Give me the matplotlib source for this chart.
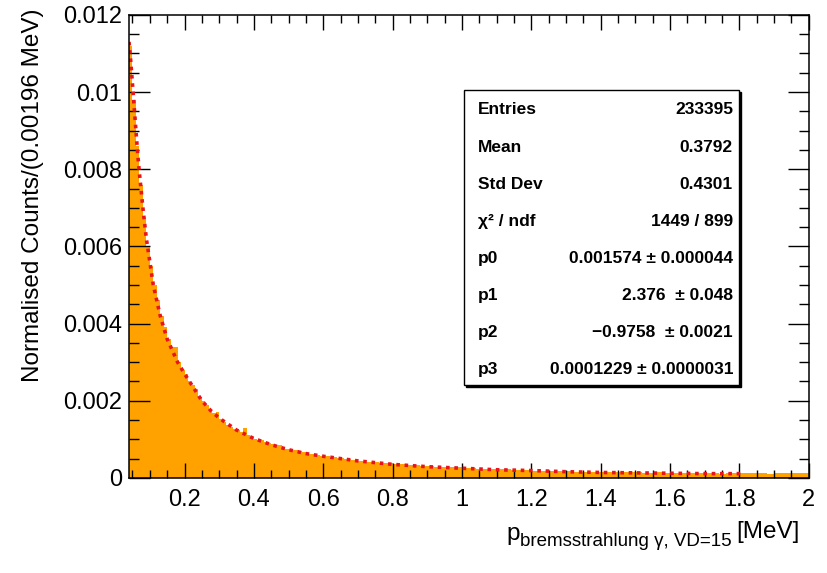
import numpy as np
import matplotlib
matplotlib.use("Agg")
import matplotlib.pyplot as plt
from matplotlib.patches import Rectangle

plt.rcParams["font.family"] = ["Liberation Sans", "DejaVu Sans"]

# histogram bin contents (0.01 MeV bins up to 0.6, then 0.02 MeV bins)
fine_counts = [
    0.0112, 0.0098, 0.0086, 0.0076, 0.0067, 0.0060, 0.0055, 0.0050, 0.0046, 0.0042,
    0.0039, 0.0036, 0.0034, 0.0034, 0.0030, 0.0028, 0.0027, 0.0025, 0.0024, 0.0023,
    0.0021, 0.0020, 0.0019, 0.00178, 0.00168, 0.00172, 0.00152, 0.00145, 0.00138, 0.00132,
    0.00127, 0.00124, 0.00119, 0.00130, 0.00112, 0.00106, 0.00102, 0.00099, 0.00097, 0.00094,
    0.00091, 0.00087, 0.00084, 0.00085, 0.00079, 0.00076, 0.00074, 0.00072, 0.00071, 0.00069,
    0.00066, 0.00064, 0.00063, 0.00062, 0.00060, 0.00058,
]
coarse_counts = [
    0.00057, 0.00053, 0.00052, 0.00049, 0.00047, 0.00045, 0.00042, 0.00041, 0.00039, 0.00038,
    0.00036, 0.00035, 0.00033, 0.00033, 0.00031, 0.00030, 0.00029, 0.00029, 0.00027, 0.00027,
    0.00026, 0.00025, 0.00024, 0.00024, 0.00023, 0.00022, 0.00022, 0.00021, 0.00021, 0.00020,
    0.00019, 0.00019, 0.00018, 0.00018, 0.00017, 0.00017, 0.00016, 0.00016, 0.00016, 0.00015,
    0.00015, 0.00015, 0.00014, 0.00015, 0.00014, 0.00014, 0.00013, 0.00013, 0.00014, 0.00013,
    0.00013, 0.00012, 0.00013, 0.00012, 0.00012, 0.00012, 0.00012, 0.00011, 0.00012, 0.00012,
    0.00012, 0.00012, 0.00012, 0.00012, 0.00011, 0.00012, 0.00012, 0.00012, 0.00012, 0.00012,
]

# fit curve
fit_x = [0.040, 0.045, 0.050, 0.055, 0.060, 0.065, 0.070, 0.080, 0.090, 0.100,
         0.110, 0.120, 0.130, 0.140, 0.150, 0.160, 0.180, 0.200, 0.225, 0.250,
         0.275, 0.300, 0.350, 0.400, 0.450, 0.500, 0.550, 0.600, 0.700, 0.800,
         0.900, 1.000, 1.100, 1.200, 1.300, 1.400, 1.500, 1.600, 1.700, 1.810]
fit_y = [0.0113, 0.0108, 0.0102, 0.0096, 0.0090, 0.0084, 0.0079, 0.0070, 0.0062, 0.0056,
         0.0050, 0.0046, 0.0042, 0.0039, 0.0036, 0.0034, 0.0030, 0.0027, 0.00235, 0.0020,
         0.00175, 0.00155, 0.00124, 0.00102, 0.00086, 0.00073, 0.00063, 0.00056, 0.00044, 0.00035,
         0.00029, 0.00025, 0.00021, 0.00019, 0.00016, 0.00014, 0.00013, 0.00012, 0.00011, 0.00011]

stats_labels = ["Entries", "Mean", "Std Dev", "\u03c7\u00b2 / ndf", "p0", "p1", "p2", "p3"]
stats_values = ["233395", "0.3792", "0.4301", "1449 / 899",
                "0.001574 \u00b1 0.000044", "2.376  \u00b1 0.048",
                "\u22120.9758  \u00b1 0.0021", "0.0001229 \u00b1 0.0000031"]

edges = np.concatenate([np.linspace(0.04, 0.60, len(fine_counts) + 1),
                        np.linspace(0.60, 2.00, len(coarse_counts) + 1)[1:]])
counts = np.array(fine_counts + coarse_counts)

fig = plt.figure(figsize=(8.27, 5.73), dpi=100)
ax = fig.add_axes([0.156, 0.166, 0.822, 0.808])

ax.stairs(counts, edges, fill=True, color="#ffa200", linewidth=0)
ax.plot(fit_x, fit_y, color="#e8141c", linewidth=2.6, linestyle=(0, (1, 1.3)))

ax.set_xlim(0.04, 2.0)
ax.set_ylim(0, 0.012)
ax.set_xticks([0.2, 0.4, 0.6, 0.8, 1.0, 1.2, 1.4, 1.6, 1.8, 2.0])
ax.set_xticklabels(["0.2", "0.4", "0.6", "0.8", "1", "1.2", "1.4", "1.6", "1.8", "2"])
ax.set_xticks(np.arange(0.05, 2.0, 0.05), minor=True)
ax.set_yticks([0, 0.002, 0.004, 0.006, 0.008, 0.01, 0.012])
ax.set_yticklabels(["0", "0.002", "0.004", "0.006", "0.008", "0.01", "0.012"])
ax.set_yticks(np.arange(0, 0.0121, 0.0005), minor=True)

ax.tick_params(which="both", direction="in", top=True, right=True, colors="black", width=1)
ax.tick_params(which="major", axis="x", length=11, pad=8, labelsize=17)
ax.tick_params(which="minor", axis="x", length=5.5)
ax.tick_params(which="major", axis="y", length=15, pad=5, labelsize=17)
ax.tick_params(which="minor", axis="y", length=7.5)
for s in ax.spines.values():
    s.set_linewidth(1.1)

fig.text(0.04, 0.985, "Normalised Counts/(0.00196 MeV)", rotation=90,
         ha="center", va="top", fontsize=17.5)

# x title built from pieces: p, subscript, [MeV]
renderer = fig.canvas.get_renderer()
unit = fig.text(800 / 827, 1 - 538 / 573, "[MeV]", ha="right", va="baseline", fontsize=17.5)
ux0 = unit.get_window_extent(renderer).x0
sub = fig.text((ux0 - 5) / 827, 1 - 546 / 573, "bremsstrahlung \u03b3, VD=15",
               ha="right", va="baseline", fontsize=13.5)
sx0 = sub.get_window_extent(renderer).x0
fig.text((sx0 - 0.5) / 827, 1 - 540 / 573, "p", ha="right", va="baseline", fontsize=17.5)

# stats box
bx0, bx1 = 464 / 827, 739 / 827
by0, by1 = 1 - 385 / 573, 1 - 90 / 573
fig.patches.append(Rectangle((bx0 + 2 / 827, by0 - 2 / 573), bx1 - bx0, by1 - by0,
                             transform=fig.transFigure, facecolor="black",
                             edgecolor="black", zorder=5))
fig.patches.append(Rectangle((bx0, by0), bx1 - bx0, by1 - by0,
                             transform=fig.transFigure, facecolor="white",
                             edgecolor="black", linewidth=1, zorder=6))
for i, (lab, val) in enumerate(zip(stats_labels, stats_values)):
    yy = 1 - (110 + i * 37.1) / 573
    fig.text(478 / 827, yy, lab, ha="left", va="center", fontsize=12.5,
             fontweight="bold", zorder=7)
    fig.text(733 / 827, yy, val, ha="right", va="center", fontsize=12.5,
             fontweight="bold", zorder=7)

fig.savefig("out.png", dpi=100)
